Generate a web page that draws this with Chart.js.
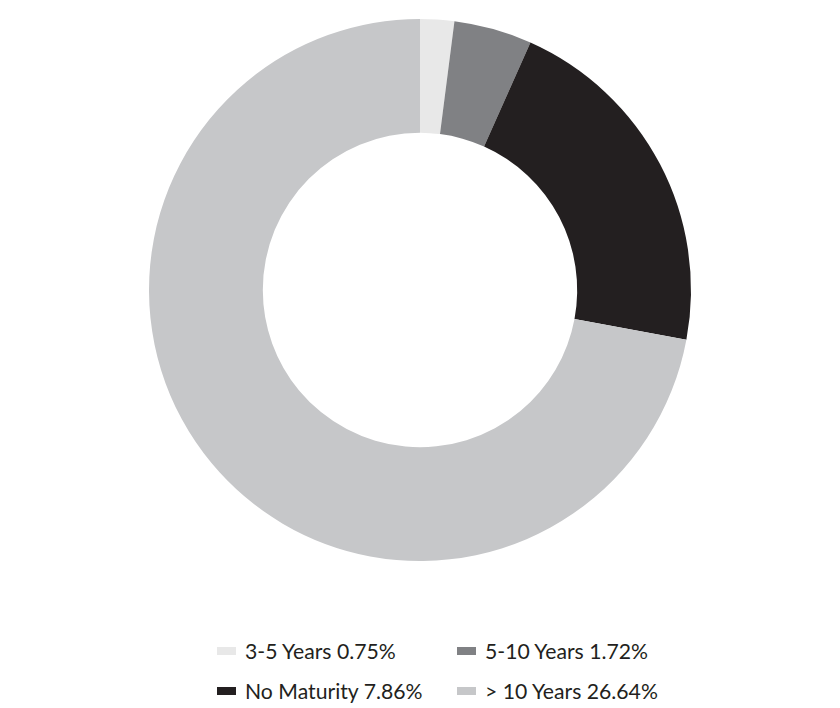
<!DOCTYPE html>
<html>
<head>
<meta charset="utf-8">
<script src="https://cdn.jsdelivr.net/npm/chart.js@4/dist/chart.umd.min.js"></script>
<style>
html,body{margin:0;padding:0;background:#fff;}
#wrap{position:relative;width:840px;height:708px;}
#cv{position:absolute;left:0;top:0;}
#legend{position:absolute;left:0;top:0;width:840px;font-family:Lato,sans-serif;font-size:21.2px;color:#231f20;}
.item{position:absolute;display:flex;align-items:center;height:24px;white-space:nowrap;}
.box{width:19px;height:8px;margin-right:9px;}
</style>
</head>
<body>
<div id="wrap">
<canvas id="cv" width="840" height="561" style="width:840px;height:561px"></canvas>
<div id="legend"></div>
</div>
<script>
const categories = ['3-5 Years', '5-10 Years', 'No Maturity', '> 10 Years'];
const values = [0.75, 1.72, 7.86, 26.64];
const colors = ['#e8e8e8', '#808184', '#231f20', '#c6c7c9'];

new Chart(document.getElementById('cv'), {
  type: 'doughnut',
  data: {
    labels: categories,
    datasets: [{ data: values, backgroundColor: colors, borderWidth: 0, hoverOffset: 0 }]
  },
  options: {
    responsive: false,
    animation: false,
    cutout: '58%',
    layout: { padding: { top: 19, bottom: 0, left: 0, right: 0 } },
    plugins: { legend: { display: false }, tooltip: { enabled: false } }
  }
});

const legend = document.getElementById('legend');
const pos = [[217, 639], [457, 639], [217, 679], [457, 679]];
categories.forEach((c, i) => {
  const it = document.createElement('div');
  it.className = 'item';
  it.style.left = pos[i][0] + 'px';
  it.style.top = pos[i][1] + 'px';
  const b = document.createElement('span');
  b.className = 'box';
  b.style.background = colors[i];
  const t = document.createElement('span');
  t.textContent = c + ' ' + values[i].toFixed(2) + '%';
  it.appendChild(b); it.appendChild(t);
  legend.appendChild(it);
});
</script>
</body>
</html>
